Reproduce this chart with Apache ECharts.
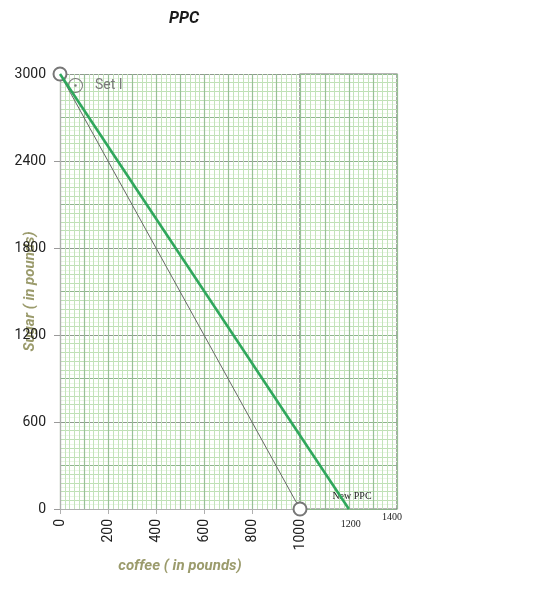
<!DOCTYPE html>
<html>
<head>
<meta charset="utf-8">
<script src="https://cdn.jsdelivr.net/npm/echarts@6/dist/echarts.min.js"></script>
<style>
html,body{margin:0;padding:0;background:#fff;}
#c{width:560px;height:600px;}
</style>
</head>
<body>
<div id="c"></div>
<script>
// ---- data ----
const set1Coffee = [0, 1000];
const set1Sugar = [3000, 0];
const newCoffee = [0, 1200];
const newSugar = [3000, 0];
const xTickValues = [0, 200, 400, 600, 800, 1000];
const yTickValues = [0, 600, 1200, 1800, 2400, 3000];
const paperNotes = [
  {text: 'New PPC', x: 1213, y: 90},
];

const set1Data = set1Coffee.map((c, i) => [c, set1Sugar[i]]);
const newData = newCoffee.map((c, i) => [c, newSugar[i]]);

const FONT = 'Roboto, "Noto Sans", sans-serif';
const chart = echarts.init(document.getElementById('c'), null, {renderer: 'canvas'});

const G = {top: 74, height: 435, left: 60};
const plain = v => String(v);

const ringDot = 'path://M12,2A10,10,0,1,0,12,22A10,10,0,1,0,12,2ZM12,3.3A8.7,8.7,0,1,1,12,20.7A8.7,8.7,0,1,1,12,3.3ZM12,10.3A1.7,1.7,0,1,0,12,13.7A1.7,1.7,0,1,0,12,10.3Z';

const option = {
  animation: false,
  title: {
    text: 'PPC', left: 164, top: 6,
    textStyle: {fontFamily: FONT, fontSize: 16, fontWeight: 'bold', fontStyle: 'italic', color: '#1a1a1a'}
  },
  legend: {
    data: ['Set I'], left: 68, top: 78, padding: 0, icon: ringDot, itemWidth: 15, itemHeight: 15, itemGap: 6,
    textStyle: {fontFamily: FONT, fontSize: 14, color: '#7a7a7a', padding: [0, 0, 0, 7]},
    itemStyle: {color: '#777', borderWidth: 0}
  },
  grid: [
    {left: G.left, top: G.top, width: 337, height: G.height, show: false, outerBoundsMode: 'none', containLabel: false},
    {left: G.left, top: G.top, width: 240, height: G.height, show: false, outerBoundsMode: 'none', containLabel: false},
    {left: 300, top: G.top, width: 97, height: G.height, show: true, borderColor: '#6e6e6e', borderWidth: 1.2, backgroundColor: 'transparent', outerBoundsMode: 'none', containLabel: false}
  ],
  xAxis: [
    {gridIndex: 0, type: 'value', min: 0, max: 1400, interval: 20, show: true,
     axisLine: {show: false}, axisTick: {show: false}, axisLabel: {show: false},
     splitLine: {show: true, lineStyle: {color: '#c3e3bb', width: 1}}},
    {gridIndex: 0, type: 'value', min: 0, max: 1400, interval: 100, show: true,
     axisLine: {show: false}, axisTick: {show: false}, axisLabel: {show: false},
     splitLine: {show: true, lineStyle: {color: '#98c096', width: 1.2}}},
    {gridIndex: 1, type: 'value', min: 0, max: 1000, interval: 200,
     axisLine: {show: true, onZero: false, lineStyle: {color: '#b0b0b0', width: 1.2}},
     axisTick: {show: true, length: 5, lineStyle: {color: '#b0b0b0'}},
     axisLabel: {show: true, rotate: 90, margin: 10, fontFamily: FONT, fontSize: 14, color: '#222',
       customValues: xTickValues, formatter: plain},
     splitLine: {show: false},
     name: 'coffee ( in pounds)', nameLocation: 'middle', nameGap: 50, nameMoveOverlap: false,
     nameTextStyle: {fontFamily: FONT, fontSize: 15, fontWeight: 'bold', fontStyle: 'italic', color: '#9b9b6c'}},
    {gridIndex: 2, type: 'value', min: 0, max: 1, show: false}
  ],
  yAxis: [
    {gridIndex: 0, type: 'value', min: 0, max: 3000, interval: 60, show: true,
     axisLine: {show: false}, axisTick: {show: false}, axisLabel: {show: false},
     splitLine: {show: true, lineStyle: {color: '#bfe0b6', width: 1}},
     minorTick: {show: false, splitNumber: 2}, minorSplitLine: {show: true, lineStyle: {color: '#eaf6e6', width: 1}}},
    {gridIndex: 0, type: 'value', min: 0, max: 3000, interval: 300, show: true,
     axisLine: {show: false}, axisTick: {show: false}, axisLabel: {show: false},
     splitLine: {show: true, lineStyle: {color: '#8fb48e', width: 1.2}}},
    {gridIndex: 1, type: 'value', min: 0, max: 3000, interval: 600,
     axisLine: {show: true, onZero: false, lineStyle: {color: '#b0b0b0', width: 1.2}},
     axisTick: {show: true, length: 6, lineStyle: {color: '#9a9a9a'}},
     axisLabel: {show: true, margin: 14, fontFamily: FONT, fontSize: 14, color: '#222', customValues: yTickValues, formatter: plain},
     splitLine: {show: true, lineStyle: {color: '#8d9a8d', width: 1}},
     name: 'Sugar ( in pounds)', nameLocation: 'middle', nameGap: 22, nameMoveOverlap: false,
     nameTextStyle: {fontFamily: FONT, fontSize: 15, fontWeight: 'bold', fontStyle: 'italic', color: '#9b9b6c'}},
    {gridIndex: 2, type: 'value', min: 0, max: 1, show: false}
  ],
  series: [
    {name: 'New PPC', type: 'line', xAxisIndex: 1, yAxisIndex: 1, data: newData,
     showSymbol: false, symbol: 'none', silent: true, z: 4,
     lineStyle: {color: '#2fa75c', width: 2.6}, itemStyle: {color: '#2fa75c'}},
    {name: 'Set I', type: 'line', xAxisIndex: 2, yAxisIndex: 2, data: set1Data,
     symbol: 'emptyCircle', symbolSize: 13, showSymbol: true, clip: false, z: 3,
     lineStyle: {color: '#666', width: 1}, itemStyle: {color: '#777', borderColor: '#777', borderWidth: 1.2}}
  ]
};
chart.setOption(option);

const gfx = [];
paperNotes.forEach(n => {
  const p = chart.convertToPixel({xAxisIndex: 1, yAxisIndex: 1}, [n.x, n.y]);
  gfx.push({type: 'text', x: p[0], y: p[1], style: {text: n.text, font: '10px "Liberation Serif", "DejaVu Serif", serif', fill: '#222', align: 'center', verticalAlign: 'middle'}});
});
const p1200 = chart.convertToPixel({xAxisIndex: 1, yAxisIndex: 1}, [1200, 0]);
const p1400 = chart.convertToPixel({xAxisIndex: 1, yAxisIndex: 1}, [1400, 0]);
gfx.push({type: 'text', x: p1200[0] + 2, y: p1200[1] + 15, style: {text: '1200', font: '10px "Liberation Serif", serif', fill: '#222', align: 'center', verticalAlign: 'middle'}});
gfx.push({type: 'text', x: p1400[0] - 5, y: p1400[1] + 8, style: {text: '1400', font: '10px "Liberation Serif", serif', fill: '#222', align: 'center', verticalAlign: 'middle'}});
chart.setOption({graphic: gfx});
</script>
</body>
</html>
